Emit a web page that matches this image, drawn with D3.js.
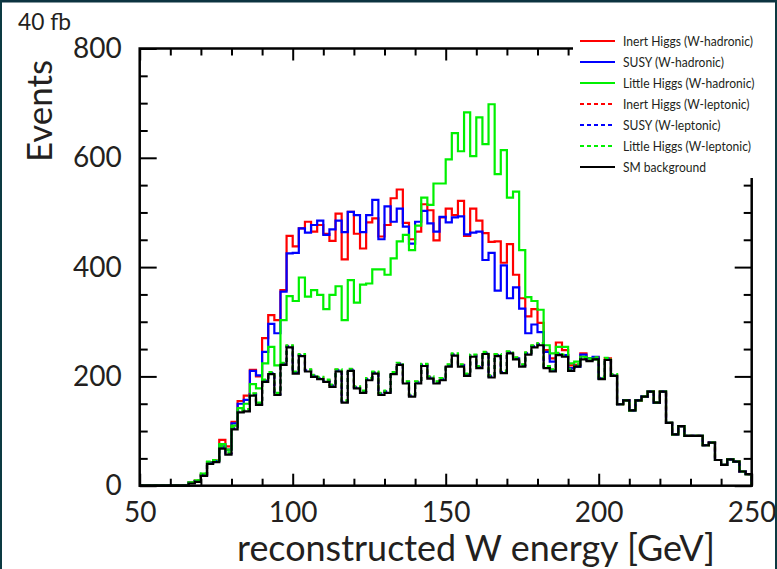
<!DOCTYPE html>
<html>
<head>
<meta charset="utf-8">
<script src="https://cdn.jsdelivr.net/npm/d3@7"></script>
<style>
  body { margin: 0; background: #fff; }
  svg { display: block; font-family: Lato, "Open Sans", sans-serif; }
</style>
</head>
<body>
<script>
// histogram binning: 100 bins of 2 GeV from 50 to 250
var binStart = 50;
var binWidth = 2;

var xTicks = [50, 100, 150, 200, 250];
var yTicks = [0, 200, 400, 600, 800];

var seriesNames = ["Inert Higgs (W-hadronic)", "SUSY (W-hadronic)", "Little Higgs (W-hadronic)",
    "Inert Higgs (W-leptonic)", "SUSY (W-leptonic)", "Little Higgs (W-leptonic)", "SM background"];

var smBackground = [0,0,0,0,0,0,0,0,
    4,7,18,40,43,68,57,103,134,136,165,148,
    190,204,166,221,253,205,237,209,199,195,
    190,181,209,152,210,178,170,193,205,166,
    170,204,221,187,163,187,219,196,187,193,
    218,238,218,201,236,215,241,198,237,206,
    242,231,218,240,253,257,215,209,239,236,
    210,218,231,228,231,195,230,201,149,156,
    138,156,163,172,152,172,115,94,109,91,
    91,91,74,79,47,38,48,44,26,21];

var inertHad = [0,0,0,0,0,0,0,0,
    6,9,20,43,46,84,72,117,155,165,212,200,
    270,312,303,358,457,438,471,483,465,477,
    461,448,498,414,501,461,434,482,489,456,
    477,526,542,481,451,465,515,504,449,491,
    507,495,521,457,507,485,462,446,447,408,
    442,386,343,310,323,298,248,233,262,248,
    220,221,242,233,233,196,233,201,149,156,
    138,156,163,172,152,172,115,94,109,91,
    91,91,74,79,47,38,48,44,26,21];

var susyHad = [0,0,0,0,0,0,0,0,
    5,8,19,42,45,75,66,114,150,157,210,202,
    245,296,279,355,425,426,471,463,477,485,
    459,469,485,464,501,495,464,495,523,451,
    511,483,507,474,443,483,503,480,465,492,
    482,491,493,460,463,465,413,426,357,403,
    343,363,324,279,295,281,245,227,240,239,
    215,218,240,233,236,196,230,201,149,156,
    138,156,163,172,152,172,115,94,109,91,
    91,91,74,79,47,38,48,44,26,21];

var littleHad = [0,0,0,0,0,0,0,0,
    6,10,22,43,46,76,66,110,142,150,186,178,
    224,254,220,303,347,338,381,346,358,349,
    323,349,365,303,376,335,368,370,396,396,
    386,416,447,459,431,476,527,514,553,553,
    597,645,612,683,603,674,625,698,570,614,
    527,538,431,345,338,322,257,242,254,254,
    224,227,236,233,231,196,230,201,149,156,
    138,156,163,172,152,172,115,94,109,91,
    91,91,74,79,47,38,48,44,26,21];

var inertLep = [0,0,0,0,0,0,0,0,
    5,9,20,43,46,71,60,106,137,139,168,151,
    193,207,169,224,256,208,240,212,202,198,
    193,184,212,155,213,181,173,196,208,169,
    173,207,224,190,166,190,222,199,190,196,
    221,241,221,204,239,218,244,201,240,209,
    245,234,221,243,256,260,218,212,242,239,
    213,221,234,231,234,198,233,203,149,156,
    138,156,163,172,152,172,115,94,109,91,
    91,91,74,79,47,38,48,44,26,21];

var susyLep = [0,0,0,0,0,0,0,0,
    5,8,19,42,45,70,59,105,136,138,167,150,
    192,206,168,223,255,207,239,211,201,197,
    192,183,211,154,212,180,172,195,207,168,
    172,206,223,189,165,189,221,198,189,195,
    220,240,220,203,238,217,243,200,239,208,
    244,233,220,242,255,259,217,211,241,238,
    212,220,233,230,233,197,232,202,149,156,
    138,156,163,172,152,172,115,94,109,91,
    91,91,74,79,47,38,48,44,26,21];

var littleLep = [0,0,0,0,0,0,0,0,
    6,10,22,44,47,72,61,107,138,140,169,152,
    194,208,170,225,257,209,241,213,203,199,
    194,185,213,156,214,182,174,197,209,170,
    174,208,225,191,167,191,223,200,191,197,
    222,242,222,205,240,219,245,202,241,210,
    246,235,222,244,257,261,219,213,243,240,
    214,222,235,232,235,199,234,204,149,156,
    138,156,163,172,152,172,115,94,109,91,
    91,91,74,79,47,38,48,44,26,21];

var seriesColors = ["#ff0000", "#0000ff", "#00f000", "#ff0000", "#0000ff", "#00f000", "#000000"];
var seriesDashed = [false, false, false, true, true, true, false];
var seriesData = [inertHad, susyHad, littleHad, inertLep, susyLep, littleLep, smBackground];

var width = 777;
var height = 569;
var textColor = "#231f20";

var svg = d3.select("body")
    .append("svg")
    .attr("width", width)
    .attr("height", height);

var x = d3.scaleLinear().domain([50, 250]).range([139.7, 751.7]);
var y = d3.scaleLinear().domain([0, 800]).range([485.7, 48.5]);

var line = d3.line()
    .x(d => x(d[0]))
    .y(d => y(d[1]))
    .curve(d3.curveStepAfter);

function histPoints(vals) {
    var pts = vals.map((v, i) => [binStart + i * binWidth, v]);
    var last = binStart + vals.length * binWidth;
    pts.push([last, vals[vals.length - 1]]);
    pts.push([last, 0]);
    return pts;
}

var plot = svg.append("g");
plot.selectAll("path")
    .data(seriesData)
    .join("path")
    .attr("d", d => line(histPoints(d)))
    .attr("fill", "none")
    .attr("stroke", (d, i) => seriesColors[i])
    .attr("stroke-width", 2.2)
    .attr("stroke-dasharray", (d, i) => seriesDashed[i] ? "4,3" : null);

// axes (ticks point into the frame)
function styleAxis(g) {
    g.select(".domain").remove();
    g.selectAll("line").attr("stroke", "#000").attr("stroke-width", 2);
    g.selectAll("text").attr("fill", textColor).style("font-size", "28px").style("font-family", "Lato, sans-serif");
}

var xMinor = d3.range(50, 251, 10).filter(v => xTicks.indexOf(v) < 0);
var yMinor = d3.range(0, 801, 50).filter(v => yTicks.indexOf(v) < 0);

svg.append("g").attr("transform", "translate(0," + y(0) + ")")
    .call(d3.axisBottom(x).tickValues(xTicks).tickSize(-12).tickPadding(16).tickFormat(d3.format("d")))
    .call(styleAxis);
svg.append("g").attr("transform", "translate(0," + y(0) + ")")
    .call(d3.axisBottom(x).tickValues(xMinor).tickSize(-7).tickFormat(""))
    .call(styleAxis);
svg.append("g").attr("transform", "translate(0," + y(800) + ")")
    .call(d3.axisTop(x).tickValues(xTicks).tickSize(-12).tickFormat(""))
    .call(styleAxis);
svg.append("g").attr("transform", "translate(0," + y(800) + ")")
    .call(d3.axisTop(x).tickValues(xMinor).tickSize(-7).tickFormat(""))
    .call(styleAxis);

svg.append("g").attr("transform", "translate(" + x(50) + ",0)")
    .call(d3.axisLeft(y).tickValues(yTicks).tickSize(-17).tickPadding(18).tickFormat(d3.format("d")))
    .call(styleAxis);
svg.append("g").attr("transform", "translate(" + x(50) + ",0)")
    .call(d3.axisLeft(y).tickValues(yMinor).tickSize(-8).tickFormat(""))
    .call(styleAxis);
svg.append("g").attr("transform", "translate(" + x(250) + ",0)")
    .call(d3.axisRight(y).tickValues(yTicks).tickSize(-17).tickFormat(""))
    .call(styleAxis);
svg.append("g").attr("transform", "translate(" + x(250) + ",0)")
    .call(d3.axisRight(y).tickValues(yMinor).tickSize(-8).tickFormat(""))
    .call(styleAxis);

svg.append("rect")
    .attr("x", x(50)).attr("y", y(800))
    .attr("width", x(250) - x(50)).attr("height", y(0) - y(800))
    .attr("fill", "none").attr("stroke", "#000").attr("stroke-width", 2.5);

// titles
function fitText(sel, target) {
    var size = parseFloat(sel.style("font-size"));
    var len = sel.node().getComputedTextLength();
    sel.style("font-size", (size * target / len) + "px");
}

var xTitle = svg.append("text")
    .attr("x", 476).attr("y", 561)
    .attr("text-anchor", "middle")
    .attr("fill", textColor)
    .style("font-size", "30px")
    .text("reconstructed W energy [GeV]");
fitText(xTitle, 478);

var yTitle = svg.append("text")
    .attr("transform", "translate(52,111) rotate(-90)")
    .attr("text-anchor", "middle")
    .attr("fill", textColor)
    .style("font-size", "33px")
    .text("Events");
fitText(yTitle, 102);

var lumi = svg.append("text")
    .attr("x", 18).attr("y", 30)
    .attr("fill", textColor)
    .style("font-size", "20px")
    .text("40 fb");
fitText(lumi, 53);

// legend on an opaque box that hides the corner of the frame
var legend = svg.append("g");
legend.append("rect")
    .attr("x", 573).attr("y", 28)
    .attr("width", width - 573).attr("height", 150)
    .attr("fill", "#fff");
var entry = legend.selectAll("g")
    .data(seriesNames)
    .join("g")
    .attr("transform", (d, i) => "translate(0," + (41 + 21 * i) + ")");
entry.append("line")
    .attr("x1", 580).attr("x2", 615)
    .attr("stroke", (d, i) => seriesColors[i])
    .attr("stroke-width", 2)
    .attr("stroke-dasharray", (d, i) => seriesDashed[i] ? "4,3" : null);
var legendText = entry.append("text")
    .attr("x", 623).attr("dy", "0.35em")
    .attr("fill", textColor)
    .style("font-size", "13px")
    .text(d => d);
// stretch all legend labels by the factor that makes the first one 130px wide
var legendScale = 130 / legendText.node().getComputedTextLength();
legendText.attr("textLength", function() { return this.getComputedTextLength() * legendScale; })
    .attr("lengthAdjust", "spacingAndGlyphs");

// slide border
svg.append("rect").attr("x", 0).attr("y", 0).attr("width", width).attr("height", 2.5).attr("fill", "#0c3340");
svg.append("rect").attr("x", 0).attr("y", 0).attr("width", 2).attr("height", height).attr("fill", "#0c3a42");
svg.append("rect").attr("x", width - 2).attr("y", 0).attr("width", 2).attr("height", height).attr("fill", "#0c3a42");
</script>
</body>
</html>
